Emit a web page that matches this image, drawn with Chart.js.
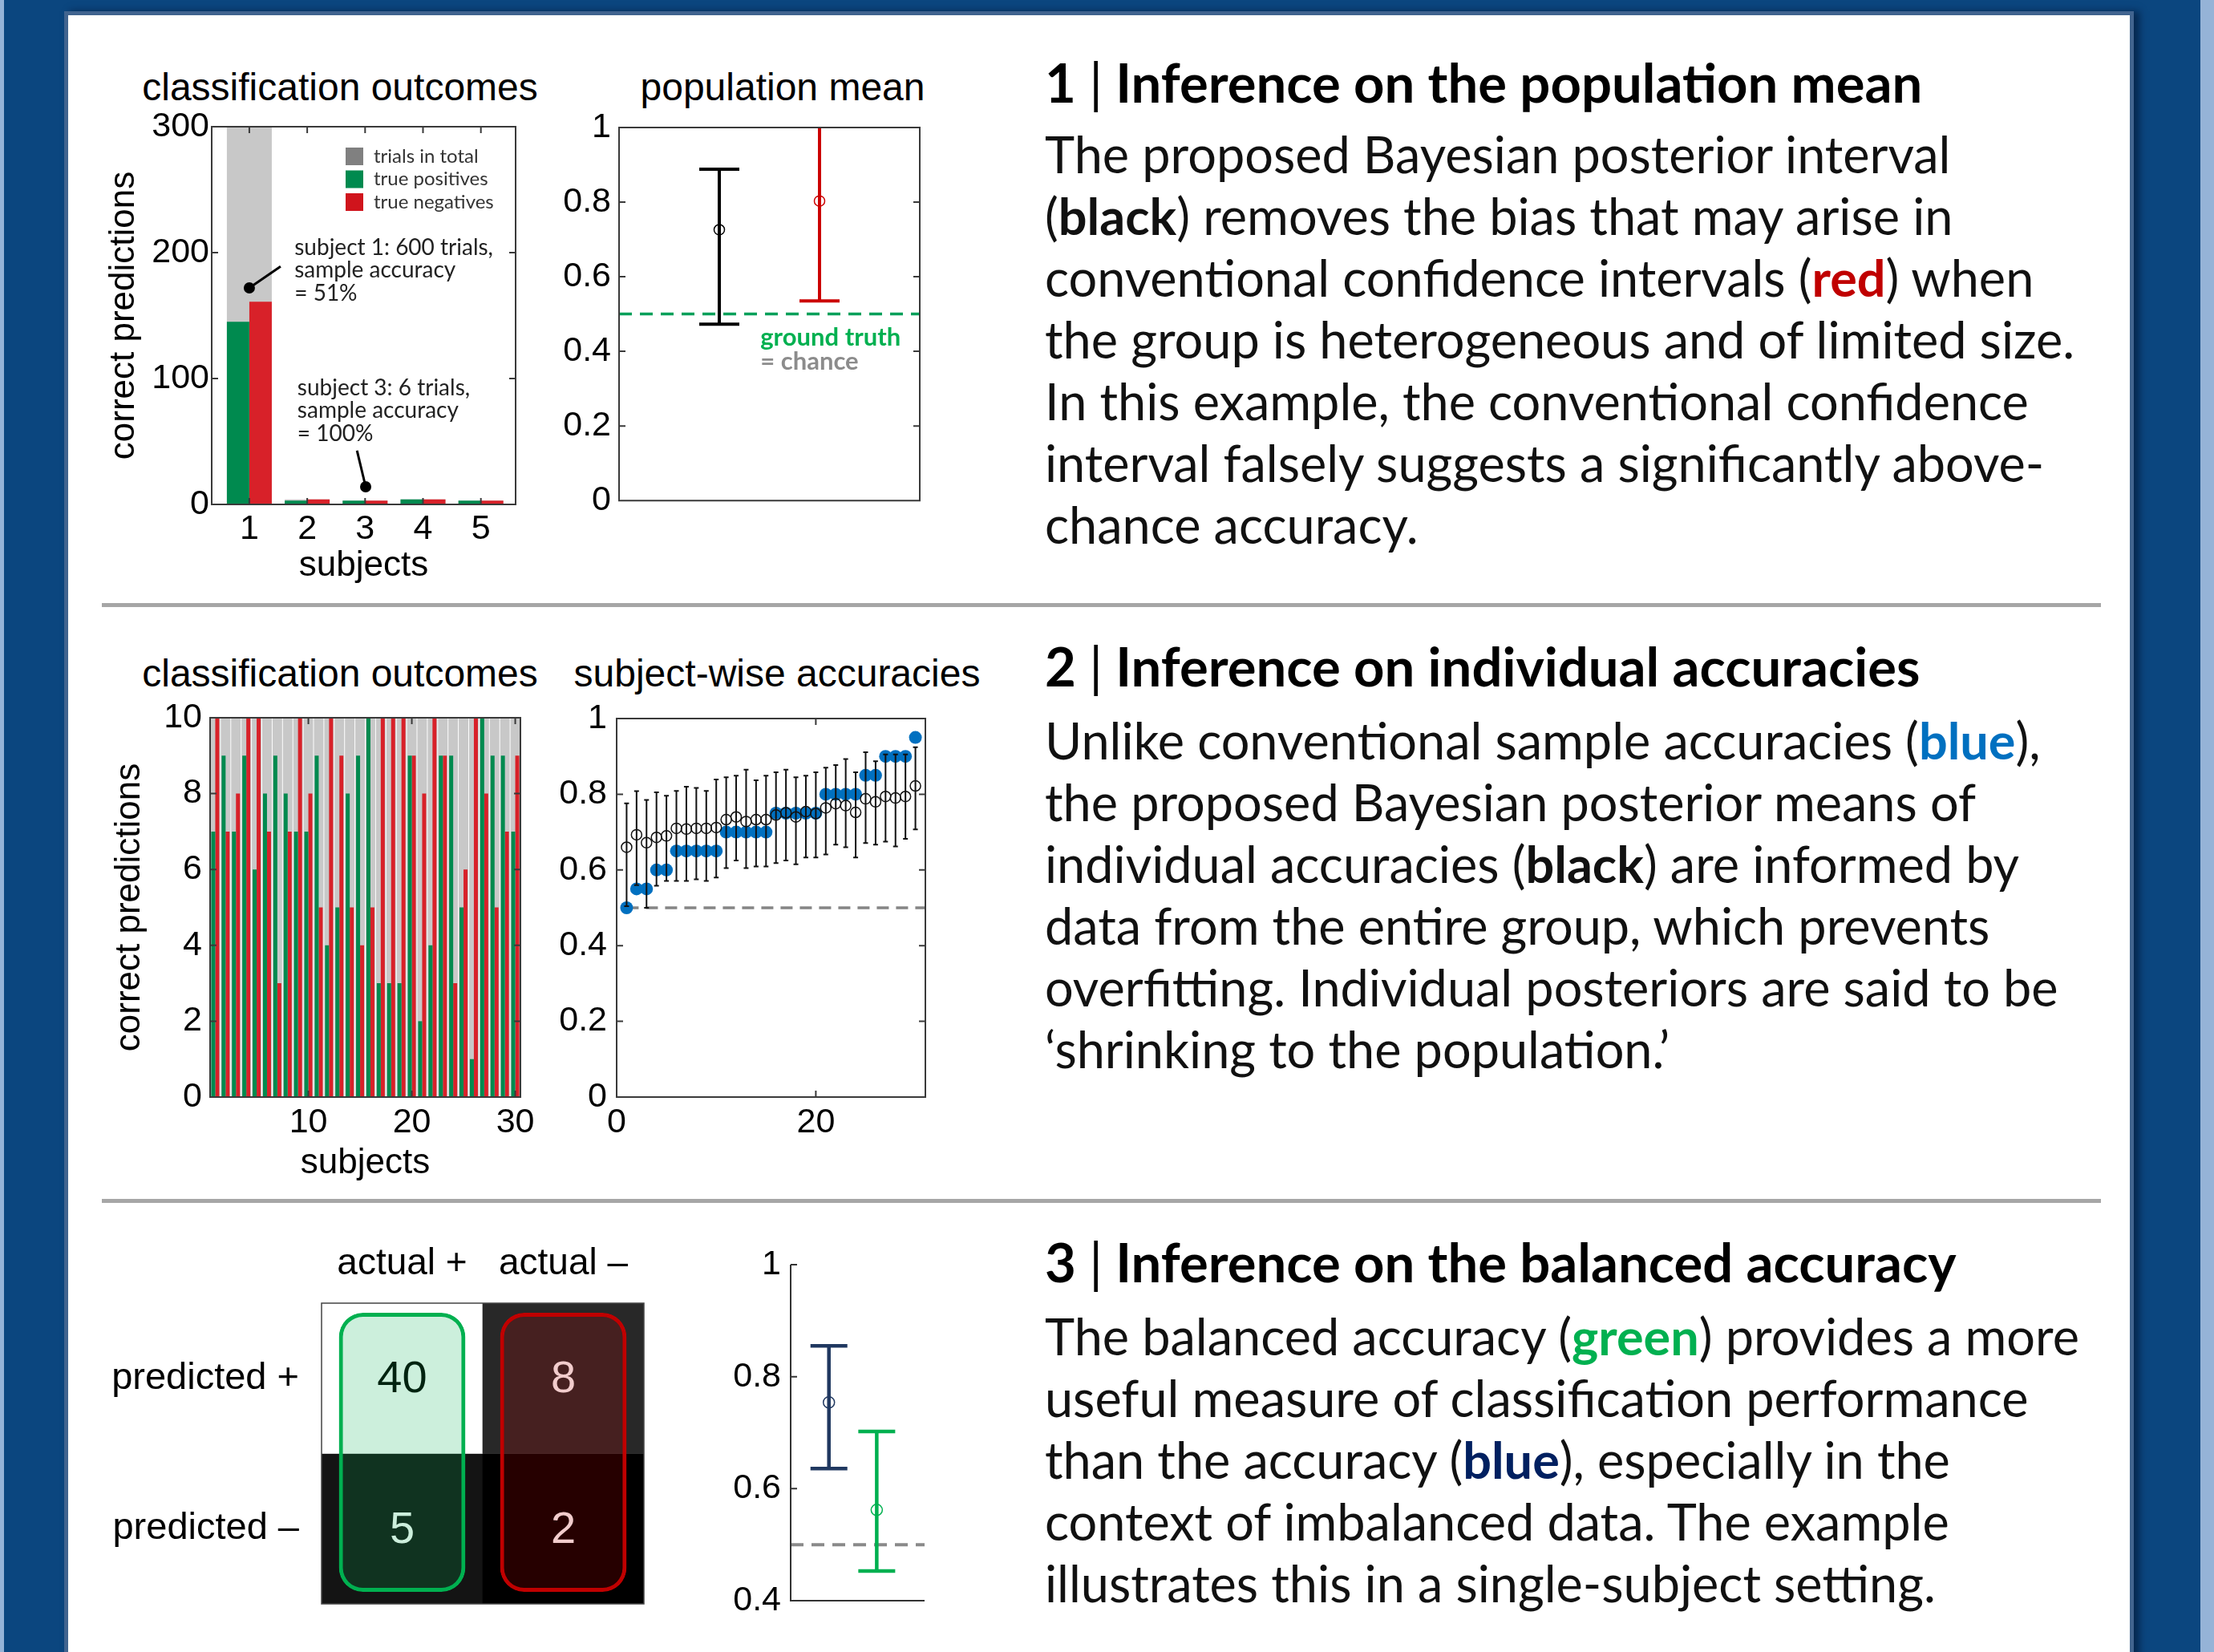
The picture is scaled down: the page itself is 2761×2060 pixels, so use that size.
<!DOCTYPE html>
<html>
<head>
<meta charset="utf-8">
<script src="https://cdn.jsdelivr.net/npm/chart.js@4.4.0/dist/chart.umd.min.js"></script>
<style>
html, body { margin: 0; padding: 0; }
body { width: 2761px; height: 2060px; overflow: hidden; position: relative; background: #0b467f; font-family: Lato, sans-serif; }
.strip { position: absolute; top: 0; height: 2060px; background: #95b3d7; }
#sheet { position: absolute; left: 80px; top: 14px; width: 2571px; height: 2100px; background: #fff; border: 5px solid #41648f; box-shadow: 7px 0 9px rgba(0, 15, 40, 0.55); }
.rule { position: absolute; left: 127px; width: 2493px; height: 5px; background: #a6a6a6; }
canvas { position: absolute; }
.ttl { position: absolute; width: 600px; text-align: center; font: 48px "Liberation Sans", Arial, sans-serif; line-height: 58px; white-space: nowrap; color: #000; }
.head { position: absolute; left: 1303px; font-weight: 700; font-size: 67px; line-height: 77px; white-space: nowrap; color: #000; }
.head .bar { font-weight: 400; }
.body { position: absolute; left: 1303px; font-size: 63px; line-height: 77px; white-space: nowrap; color: #111; }
</style>
</head>
<body>
<div class="strip" style="left:0;width:5px"></div>
<div class="strip" style="left:2744px;width:17px"></div>
<div id="sheet"></div>
<div class="rule" style="top:752px"></div>
<div class="rule" style="top:1495px"></div>

<div class="ttl" style="left:124px;top:80px">classification outcomes</div>
<div class="ttl" style="left:676px;top:80px">population mean</div>
<div class="ttl" style="left:124px;top:811px">classification outcomes</div>
<div class="ttl" style="left:669px;top:811px">subject-wise accuracies</div>

<canvas id="outcomes5"></canvas>
<canvas id="popMean"></canvas>
<canvas id="outcomes30"></canvas>
<canvas id="subjectAcc"></canvas>
<canvas id="confusion"></canvas>
<canvas id="balanced"></canvas>

<div class="head" style="top:64px">1 <span class="bar">|</span> Inference on the population mean</div>
<div class="body" style="top:153px">The proposed Bayesian posterior interval<br>(<b>black</b>) removes the bias that may arise in<br>conventional confidence intervals (<b style="color:#c00000">red</b>) when<br>the group is heterogeneous and of limited size.<br>In this example, the conventional confidence<br>interval falsely suggests a significantly above-<br>chance accuracy.</div>

<div class="head" style="top:792px">2 <span class="bar">|</span> Inference on individual accuracies</div>
<div class="body" style="top:884px">Unlike conventional sample accuracies (<b style="color:#0070c0">blue</b>),<br>the proposed Bayesian posterior means of<br>individual accuracies (<b>black</b>) are informed by<br>data from the entire group, which prevents<br>overfitting. Individual posteriors are said to be<br>‘shrinking to the population.’</div>

<div class="head" style="top:1535px">3 <span class="bar">|</span> Inference on the balanced accuracy</div>
<div class="body" style="top:1627px">The balanced accuracy (<b style="color:#00b050">green</b>) provides a more<br>useful measure of classification performance<br>than the accuracy (<b style="color:#002060">blue</b>), especially in the<br>context of imbalanced data. The example<br>illustrates this in a single-subject setting.</div>

<script>
// --- Panel 1: 5 Probanden ---
const subjects5 = [1, 2, 3, 4, 5];
const trials5 = [300, 4, 3, 4, 3];
const truePos5 = [145, 3, 3, 4, 3];
const trueNeg5 = [161, 4, 3, 4, 3];
const countTicks5 = [0, 100, 200, 300];
const outcomeLabels = ['trials in total', 'true positives', 'true negatives'];
const note1 = ['subject 1: 600 trials,', 'sample accuracy', '= 51%'];
const note3 = ['subject 3: 6 trials,', 'sample accuracy', '= 100%'];

// --- Panel 2: Populationsmittel ---
const popX = [1, 2];
const popMean = [0.726, 0.803];
const popLo = [0.473, 0.535];
const popHi = [0.888, 1.07];
const accTicks = [0, 0.2, 0.4, 0.6, 0.8, 1];
const chance = 0.5;

// --- Panel 3: 30 Probanden ---
const subjects30 = [1, 2, 3, 4, 5, 6, 7, 8, 9, 10, 11, 12, 13, 14, 15, 16, 17, 18, 19, 20, 21, 22, 23, 24, 25, 26, 27, 28, 29, 30];
const trials30 = [10, 10, 10, 10, 10, 10, 10, 10, 10, 10, 10, 10, 10, 10, 10, 10, 10, 10, 10, 10, 10, 10, 10, 10, 10, 10, 10, 10, 10, 10];
const truePos30 = [7, 9, 7, 9, 6, 8, 9, 8, 7, 7, 9, 4, 5, 8, 9, 10, 3, 3, 3, 9, 2, 4, 9, 9, 5, 1, 10, 9, 9, 7];
const trueNeg30 = [10, 7, 8, 10, 10, 7, 3, 7, 10, 8, 5, 10, 9, 5, 4, 5, 10, 10, 10, 9, 8, 10, 9, 3, 6, 10, 8, 5, 7, 9];
const subjectTicks30 = [10, 20, 30];
const countTicks30 = [0, 2, 4, 6, 8, 10];

// --- Panel 4: Genauigkeiten pro Proband (sortiert) ---
const sampleAcc = [0.50, 0.55, 0.55, 0.60, 0.60, 0.65, 0.65, 0.65, 0.65, 0.65, 0.70, 0.70, 0.70, 0.70, 0.70,
  0.75, 0.75, 0.75, 0.75, 0.75, 0.80, 0.80, 0.80, 0.80, 0.85, 0.85, 0.90, 0.90, 0.90, 0.95];
const postMean = [0.660, 0.693, 0.672, 0.686, 0.690, 0.710, 0.708, 0.710, 0.710, 0.712, 0.733, 0.740, 0.728, 0.733, 0.733,
  0.745, 0.751, 0.740, 0.754, 0.749, 0.764, 0.775, 0.770, 0.752, 0.788, 0.780, 0.794, 0.790, 0.794, 0.822];
const postHi = [0.776, 0.808, 0.785, 0.805, 0.796, 0.809, 0.820, 0.817, 0.809, 0.839, 0.845, 0.849, 0.865, 0.837, 0.849,
  0.858, 0.865, 0.845, 0.849, 0.858, 0.870, 0.877, 0.893, 0.858, 0.911, 0.887, 0.905, 0.905, 0.905, 0.924];
const postLo = [0.504, 0.560, 0.500, 0.558, 0.571, 0.571, 0.571, 0.575, 0.571, 0.580, 0.605, 0.625, 0.605, 0.609, 0.609,
  0.618, 0.625, 0.615, 0.633, 0.633, 0.641, 0.667, 0.660, 0.633, 0.671, 0.667, 0.675, 0.662, 0.682, 0.707];
const rankTicks = [0, 20];

// --- Panel 5: Konfusionsmatrix ---
const cmCols = ['actual +', 'actual –'];
const cmRows = ['predicted +', 'predicted –'];
const cmCounts = [[40, 8], [5, 2]];

// --- Panel 6: balancierte Genauigkeit ---
const balX = [1, 2];
const balMean = [0.754, 0.562];
const balLo = [0.636, 0.453];
const balHi = [0.855, 0.702];
const balTicks = [0.4, 0.6, 0.8, 1];

// Farben
const green = '#008a4f', red = '#d82129', barGray = '#c8c8c8';
const keyColors = ['#808080', '#008a4f', '#d0141c'];
const blue = '#0070c0', navy = '#203860', brightGreen = '#00b050', darkRed = '#cc0000';

Chart.defaults.font.family = '"Liberation Sans", Arial, sans-serif';
Chart.defaults.color = '#000';
Chart.defaults.plugins.legend.display = false;
Chart.defaults.plugins.tooltip.enabled = false;

const fmt = v => String(Math.round(v * 100) / 100);
const noGrid = { display: false, drawTicks: false };

// MATLAB-Rahmen mit Ticks nach innen
const boxLines = {
  id: 'boxLines',
  defaults: { mode: 'none', len: 8, width: 2, color: '#3a3a3a', xTicks: true, yTicks: true },
  afterDatasetsDraw(chart, args, o) {
    if (o.mode === 'none') return;
    const { ctx, chartArea: a } = chart;
    const xs = chart.scales.x, ys = chart.scales.y;
    const full = o.mode === 'box';
    ctx.save();
    ctx.strokeStyle = o.color;
    ctx.lineWidth = o.width;
    ctx.beginPath();
    if (full) ctx.rect(a.left, a.top, a.right - a.left, a.bottom - a.top);
    else { ctx.moveTo(a.left, a.top); ctx.lineTo(a.left, a.bottom); ctx.lineTo(a.right, a.bottom); }
    if (o.yTicks) ys.ticks.forEach(t => {
      const p = ys.getPixelForValue(t.value);
      if (full && (p < a.top + 2 || p > a.bottom - 2)) return;
      ctx.moveTo(a.left, p); ctx.lineTo(a.left + o.len, p);
      if (full) { ctx.moveTo(a.right, p); ctx.lineTo(a.right - o.len, p); }
    });
    if (o.xTicks) xs.ticks.forEach(t => {
      const p = xs.getPixelForValue(t.value);
      if (p < a.left + 2 || p > a.right - 2) return;
      ctx.moveTo(p, a.bottom); ctx.lineTo(p, a.bottom - o.len);
      if (full) { ctx.moveTo(p, a.top); ctx.lineTo(p, a.top + o.len); }
    });
    ctx.stroke();
    ctx.restore();
  }
};

// Fehlerbalken vor den Punkten zeichnen
const errBars = {
  id: 'errBars',
  beforeDatasetDraw(chart, { index, meta }) {
    const e = chart.data.datasets[index].err;
    if (!e) return;
    const { ctx, chartArea: a } = chart;
    const ys = chart.scales[meta.yAxisID];
    ctx.save();
    ctx.beginPath();
    ctx.rect(a.left - 20, a.top, a.right - a.left + 40, a.bottom - a.top);
    ctx.clip();
    ctx.lineWidth = e.width;
    meta.data.forEach((pt, i) => {
      const lo = ys.getPixelForValue(e.lo[i]), hi = ys.getPixelForValue(e.hi[i]);
      ctx.strokeStyle = Array.isArray(e.color) ? e.color[i] : e.color;
      ctx.beginPath();
      ctx.moveTo(pt.x, lo); ctx.lineTo(pt.x, hi);
      ctx.moveTo(pt.x - e.cap, lo); ctx.lineTo(pt.x + e.cap, lo);
      ctx.moveTo(pt.x - e.cap, hi); ctx.lineTo(pt.x + e.cap, hi);
      ctx.stroke();
    });
    ctx.restore();
  }
};

// Beschriftungen und Zeiger in Datenkoordinaten
const notes = {
  id: 'notes',
  defaults: { items: [], pointers: [] },
  afterDatasetsDraw(chart, args, o) {
    const { ctx } = chart;
    const xs = chart.scales.x, ys = chart.scales.y;
    ctx.save();
    o.pointers.forEach(p => {
      const x0 = xs.getPixelForValue(p.from[0]), y0 = ys.getPixelForValue(p.from[1]);
      const x1 = xs.getPixelForValue(p.to[0]), y1 = ys.getPixelForValue(p.to[1]);
      ctx.strokeStyle = p.color; ctx.fillStyle = p.color; ctx.lineWidth = p.width;
      ctx.beginPath(); ctx.moveTo(x0, y0); ctx.lineTo(x1, y1); ctx.stroke();
      ctx.beginPath(); ctx.arc(x1, y1, p.dot, 0, Math.PI * 2); ctx.fill();
    });
    o.items.forEach(it => {
      ctx.font = it.font; ctx.fillStyle = it.color;
      ctx.textAlign = 'left'; ctx.textBaseline = 'middle';
      const x = xs.getPixelForValue(it.x), y = ys.getPixelForValue(it.y);
      it.lines.forEach((s, k) => ctx.fillText(s, x, y + k * it.lh));
    });
    ctx.restore();
  }
};

// kleine Legende im Plotbereich
const keyBox = {
  id: 'keyBox',
  defaults: { items: [] },
  afterDatasetsDraw(chart, args, o) {
    if (!o.items.length) return;
    const { ctx, chartArea: a } = chart;
    ctx.save();
    ctx.font = o.font; ctx.textAlign = 'left'; ctx.textBaseline = 'middle';
    o.items.forEach((it, k) => {
      const cy = a.top + o.dy + k * o.step;
      ctx.fillStyle = it.color;
      ctx.fillRect(a.left + o.dx, cy - o.size / 2, o.size, o.size);
      ctx.fillStyle = o.color;
      ctx.fillText(it.label, a.left + o.dx + o.gap, cy);
    });
    ctx.restore();
  }
};

// Zahlen in den Zellen, unter den farbigen Rahmen
const cellText = {
  id: 'cellText',
  afterDatasetDraw(chart, { index, meta }) {
    const ds = chart.data.datasets[index];
    if (!ds.counts) return;
    const { ctx } = chart;
    ctx.save();
    ctx.font = '56px "Liberation Sans", Arial, sans-serif';
    ctx.textAlign = 'center'; ctx.textBaseline = 'middle';
    meta.data.forEach((el, i) => {
      const v = ds.counts[i];
      ctx.fillStyle = v > cmMid ? '#000' : '#fff';
      ctx.fillText(String(v), el.x, (el.y + el.base) / 2 + 2);
    });
    ctx.restore();
  }
};

Chart.register(boxLines, errBars, notes, keyBox, cellText);

function place(id, box) {
  const c = document.getElementById(id);
  c.width = box[2]; c.height = box[3];
  c.style.left = box[0] + 'px'; c.style.top = box[1] + 'px';
  return c;
}

function yAxis(o) {
  return {
    type: 'linear', min: o.min, max: o.max, reverse: !!o.reverse,
    afterBuildTicks: s => { s.ticks = o.ticks.map(v => ({ value: v })); },
    afterFit: s => { s.width = o.w; },
    grid: noGrid, border: { display: false },
    ticks: { padding: o.pad, font: { size: o.size || 43 }, color: '#000', callback: o.cb || fmt },
    title: o.title ? { display: true, text: o.title, font: { size: 44 }, color: '#000', padding: { top: o.tpad, bottom: 0 } } : { display: false }
  };
}

function xAxis(o) {
  return {
    type: 'linear', min: o.min, max: o.max, offset: false,
    afterBuildTicks: s => { s.ticks = o.ticks.map(v => ({ value: v })); },
    afterFit: s => { s.height = o.h; },
    grid: noGrid, border: { display: false },
    ticks: { display: o.labels !== false, padding: o.pad || 0, font: { size: 43 }, color: '#000', callback: fmt, maxRotation: 0 },
    title: o.title ? { display: true, text: o.title, font: { size: 44 }, color: '#000', padding: { top: 0, bottom: o.tpad } } : { display: false }
  };
}

const base = { responsive: false, animation: false, devicePixelRatio: 1, events: [] };

// Panel 1: grüne/rote Balken gruppiert, grauer Gesamtbalken dahinter (nicht gruppiert)
new Chart(place('outcomes5', [100, 120, 560, 620]), {
  type: 'bar',
  data: {
    datasets: [
      { label: outcomeLabels[1], data: subjects5.map((s, i) => ({ x: s, y: truePos5[i] })), backgroundColor: green, categoryPercentage: 0.776, barPercentage: 1 },
      { label: outcomeLabels[2], data: subjects5.map((s, i) => ({ x: s, y: trueNeg5[i] })), backgroundColor: red, categoryPercentage: 0.776, barPercentage: 1 },
      { label: outcomeLabels[0], data: subjects5.map((s, i) => ({ x: s, y: trials5[i] })), backgroundColor: barGray, grouped: false, categoryPercentage: 1, barPercentage: 0.776 }
    ]
  },
  options: {
    ...base,
    layout: { padding: { left: 0, top: 38, right: 17, bottom: 0 } },
    scales: {
      x: xAxis({ min: 0.35, max: 5.6, ticks: subjects5, h: 111, pad: 5, title: 'subjects', tpad: 7.6 }),
      y: yAxis({ min: 0, max: 300, ticks: countTicks5, w: 164, pad: 3, title: 'correct predictions', tpad: 28.6 })
    },
    plugins: {
      boxLines: { mode: 'box' },
      keyBox: { dx: 167, dy: 37, step: 28.5, size: 22, gap: 35, font: '24px Lato', color: '#333',
        items: outcomeLabels.map((l, i) => ({ label: l, color: keyColors[i] })) },
      notes: {
        items: [
          { x: 1.78, y: 204, lines: note1, color: '#222', font: '28px Lato', lh: 28.5 },
          { x: 1.83, y: 92.4, lines: note3, color: '#222', font: '28px Lato', lh: 28.5 }
        ],
        pointers: [
          { from: [1.54, 189], to: [1, 172], color: '#000', width: 3, dot: 7 },
          { from: [2.86, 42.7], to: [3.01, 14], color: '#000', width: 3, dot: 7 }
        ]
      }
    }
  }
});

// Panel 2
new Chart(place('popMean', [690, 120, 490, 540]), {
  type: 'scatter',
  data: {
    datasets: [
      { data: popX.map((x, i) => ({ x, y: popMean[i] })), pointRadius: 6.5, pointBorderWidth: 1.5,
        pointBackgroundColor: 'rgba(0,0,0,0)', pointBorderColor: ['#000', darkRed],
        err: { lo: popLo, hi: popHi, color: ['#000', darkRed], width: 4, cap: 25 } },
      { data: [{ x: 0, y: chance }, { x: 3, y: chance }], showLine: true, borderColor: '#00a05a', borderWidth: 3.5, borderDash: [16, 10], pointRadius: 0 }
    ]
  },
  options: {
    ...base,
    layout: { padding: { left: 0, top: 39, right: 33, bottom: 0 } },
    scales: {
      x: xAxis({ min: 0, max: 3, ticks: [], h: 31, labels: false }),
      y: yAxis({ min: 0, max: 1, ticks: accTicks, w: 82, pad: 10 })
    },
    plugins: {
      boxLines: { mode: 'box', xTicks: false },
      notes: {
        items: [
          { x: 1.41, y: 0.437, lines: ['ground truth'], color: '#00b050', font: 'bold 31px Lato', lh: 30 },
          { x: 1.41, y: 0.372, lines: ['= chance'], color: '#8c8c8c', font: 'bold 31px Lato', lh: 30 }
        ]
      }
    }
  }
});

// Panel 3
new Chart(place('outcomes30', [100, 850, 600, 635]), {
  type: 'bar',
  data: {
    datasets: [
      { data: subjects30.map((s, i) => ({ x: s, y: truePos30[i] })), backgroundColor: green, categoryPercentage: 0.776, barPercentage: 1 },
      { data: subjects30.map((s, i) => ({ x: s, y: trueNeg30[i] })), backgroundColor: red, categoryPercentage: 0.776, barPercentage: 1 },
      { data: subjects30.map((s, i) => ({ x: s, y: trials30[i] })), backgroundColor: barGray, grouped: false, categoryPercentage: 1, barPercentage: 0.925 }
    ]
  },
  options: {
    ...base,
    layout: { padding: { left: 0, top: 45, right: 51, bottom: 0 } },
    scales: {
      x: xAxis({ min: 0.5, max: 30.5, ticks: subjectTicks30, h: 117, pad: 6, title: 'subjects', tpad: 7.6 }),
      y: yAxis({ min: 0, max: 10, ticks: countTicks30, w: 162, pad: 10, title: 'correct predictions', tpad: 35.6 })
    },
    plugins: { boxLines: { mode: 'box' } }
  }
});

// Panel 4
new Chart(place('subjectAcc', [690, 850, 510, 600]), {
  type: 'scatter',
  data: {
    datasets: [
      { data: subjects30.map((s, i) => ({ x: s, y: postMean[i] })), pointRadius: 6.5, pointBorderWidth: 1.5,
        pointBackgroundColor: 'rgba(0,0,0,0)', pointBorderColor: '#111',
        err: { lo: postLo, hi: postHi, color: '#111', width: 2, cap: 3 } },
      { data: subjects30.map((s, i) => ({ x: s, y: sampleAcc[i] })), pointRadius: 8, pointBorderWidth: 0,
        pointBackgroundColor: blue, pointBorderColor: blue },
      { data: [{ x: 1, y: chance }, { x: 31, y: chance }], showLine: true, borderColor: '#858585', borderWidth: 3.5, borderDash: [15, 9], pointRadius: 0 }
    ]
  },
  options: {
    ...base,
    layout: { padding: { left: 0, top: 46, right: 46, bottom: 0 } },
    scales: {
      x: xAxis({ min: 0, max: 31, ticks: rankTicks, h: 82, pad: 6 }),
      y: yAxis({ min: 0, max: 1, ticks: accTicks, w: 79, pad: 12 })
    },
    plugins: { boxLines: { mode: 'box' } }
  }
});

// Panel 5
const cmFlat = cmCounts.flat();
const cmMin = Math.min(...cmFlat), cmMax = Math.max(...cmFlat), cmMid = (cmMin + cmMax) / 2;
const cmGray = v => { const g = Math.round(255 * (v - cmMin) / (cmMax - cmMin)); return `rgb(${g},${g},${g})`; };
const ringSpan = [0.064, 1.92];

new Chart(place('confusion', [120, 1530, 700, 530]), {
  type: 'bar',
  data: {
    labels: cmCols,
    datasets: [
      { data: cmCols.map(() => ringSpan), backgroundColor: ['rgba(0,176,80,0.2)', 'rgba(192,0,0,0.2)'],
        borderColor: [brightGreen, '#c00000'], borderWidth: 5, borderRadius: 30, borderSkipped: false,
        barPercentage: 0.785, categoryPercentage: 1 },
      ...cmRows.map((r, i) => ({ data: cmCols.map(() => [i, i + 1]), counts: cmCounts[i],
        backgroundColor: cmCounts[i].map(cmGray), barPercentage: 1, categoryPercentage: 1 }))
    ]
  },
  options: {
    ...base,
    layout: { padding: { left: 0, top: 0, right: 17, bottom: 60 } },
    scales: {
      x: { type: 'category', position: 'top', stacked: true, offset: true, grid: noGrid, border: { display: false },
        ticks: { padding: 21, font: { size: 46 }, color: '#000' }, afterFit: s => { s.height = 95; } },
      y: yAxis({ min: 0, max: 2, reverse: true, ticks: cmRows.map((r, i) => i + 0.5), w: 281, pad: 28, size: 47,
        cb: (v, i) => cmRows[i] })
    },
    plugins: { boxLines: { mode: 'box', xTicks: false, yTicks: false, width: 1.5, color: '#444' } }
  }
});

// Panel 6
new Chart(place('balanced', [880, 1530, 320, 510]), {
  type: 'scatter',
  data: {
    datasets: [
      { data: balX.map((x, i) => ({ x, y: balMean[i] })), pointRadius: 7, pointBorderWidth: 1.5,
        pointBackgroundColor: 'rgba(0,0,0,0)', pointBorderColor: [navy, brightGreen],
        err: { lo: balLo, hi: balHi, color: [navy, brightGreen], width: 4.5, cap: 23 } },
      { data: [{ x: 0.2, y: chance }, { x: 3, y: chance }], showLine: true, borderColor: '#8a8a8a', borderWidth: 4, borderDash: [16, 10], pointRadius: 0 }
    ]
  },
  options: {
    ...base,
    layout: { padding: { left: 0, top: 47, right: 47, bottom: 0 } },
    scales: {
      x: xAxis({ min: 0.2, max: 3, ticks: [], h: 44, labels: false }),
      y: yAxis({ min: 0.4, max: 1, ticks: balTicks, w: 106, pad: 12 })
    },
    plugins: { boxLines: { mode: 'axes', xTicks: false, width: 2, color: '#333' } }
  }
});
</script>
</body>
</html>
